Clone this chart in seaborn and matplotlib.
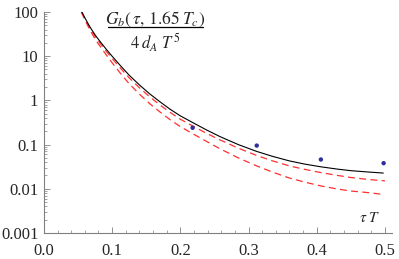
import numpy as np
import pandas as pd
import matplotlib
matplotlib.use("Agg")
import matplotlib.pyplot as plt
import seaborn as sns
from matplotlib.ticker import FixedLocator, NullFormatter, LogLocator

# ---- data ----
tau_black = [0.0557, 0.06, 0.065, 0.07, 0.077, 0.085, 0.092, 0.10, 0.1125, 0.125, 0.14,
             0.155, 0.17, 0.185, 0.20, 0.218, 0.238, 0.258, 0.285, 0.312, 0.335, 0.36,
             0.382, 0.405, 0.43, 0.45, 0.475, 0.4975]
g_black = [100, 74.1, 53.7, 39.8, 27.5, 19.1, 14.0, 10.0, 6.03, 3.72, 2.24,
           1.41, 0.933, 0.631, 0.447, 0.316, 0.216, 0.152, 0.100, 0.070, 0.0543, 0.0427,
           0.0363, 0.0316, 0.0279, 0.0257, 0.0240, 0.0227]

tau_red1 = [0.0552, 0.06, 0.065, 0.07, 0.077, 0.085, 0.092, 0.10, 0.1125, 0.125, 0.14,
            0.155, 0.17, 0.185, 0.20, 0.218, 0.238, 0.258, 0.285, 0.312, 0.335, 0.36,
            0.382, 0.405, 0.43, 0.45, 0.475, 0.50]
g_red1 = [100, 70.4, 50.5, 37.0, 25.3, 17.4, 12.6, 8.9, 5.3, 3.24, 1.93,
          1.21, 0.79, 0.536, 0.375, 0.265, 0.181, 0.128, 0.083, 0.0567, 0.0429, 0.0329,
          0.0276, 0.0234, 0.0201, 0.0180, 0.0163, 0.0151]

tau_red2 = [0.0548, 0.06, 0.065, 0.07, 0.077, 0.085, 0.092, 0.10, 0.1125, 0.125, 0.14,
            0.155, 0.17, 0.185, 0.20, 0.218, 0.238, 0.258, 0.285, 0.312, 0.335, 0.36,
            0.382, 0.405, 0.43, 0.45, 0.475, 0.493]
g_red2 = [100, 66.7, 46.7, 33.4, 22.0, 14.7, 10.4, 7.1, 4.04, 2.38, 1.39,
          0.846, 0.550, 0.366, 0.255, 0.177, 0.119, 0.0806, 0.050, 0.0329, 0.0239, 0.0175,
          0.0142, 0.0117, 0.0099, 0.0089, 0.0082, 0.0076]

tau_pts = [0.218, 0.312, 0.406, 0.498]
g_pts = [0.24, 0.095, 0.046, 0.038]

x_ticks = [0.0, 0.1, 0.2, 0.3, 0.4, 0.5]
x_ticklabels = ["0.0", "0.1", "0.2", "0.3", "0.4", "0.5"]
y_ticks = [0.001, 0.01, 0.1, 1, 10, 100]
y_ticklabels = ["0.001", "0.01", "0.1", "1", "10", "100"]

sns.set_style("ticks")
plt.rcParams["font.family"] = ["Liberation Serif", "DejaVu Serif"]
plt.rcParams["mathtext.fontset"] = "stix"

fig = plt.figure(figsize=(3.99, 2.59), dpi=100)
ax = fig.add_axes([0.110, 0.1004, 0.872, 0.8533])

df_b = pd.DataFrame({"tau": tau_black, "g": g_black})
df_r1 = pd.DataFrame({"tau": tau_red1, "g": g_red1})
df_r2 = pd.DataFrame({"tau": tau_red2, "g": g_red2})
df_p = pd.DataFrame({"tau": tau_pts, "g": g_pts})

ax.set_yscale("log")
sns.lineplot(data=df_r1, x="tau", y="g", ax=ax, color="#ff3030", lw=0.9,
             sort=False, estimator=None)
sns.lineplot(data=df_r2, x="tau", y="g", ax=ax, color="#ff3030", lw=0.9,
             sort=False, estimator=None)
for l in ax.get_lines():
    l.set_dashes([5.5, 3.5])
sns.lineplot(data=df_b, x="tau", y="g", ax=ax, color="black", lw=0.8,
             sort=False, estimator=None)
sns.scatterplot(data=df_p, x="tau", y="g", ax=ax, color="#2f2f9a", s=10,
                edgecolor="none", zorder=5)

ax.set_xlim(0, 0.51)
ax.set_ylim(0.001, 100)
ax.set_xlabel("")
ax.set_ylabel("")

ax.xaxis.set_major_locator(FixedLocator(x_ticks))
ax.set_xticklabels(x_ticklabels)
ax.xaxis.set_minor_locator(FixedLocator([i * 0.02 for i in range(26)]))
ax.yaxis.set_major_locator(FixedLocator(y_ticks))
ax.set_yticklabels(y_ticklabels)
ax.yaxis.set_minor_locator(LogLocator(base=10, subs=np.arange(2, 10)))
ax.yaxis.set_minor_formatter(NullFormatter())

for s in ["top", "right"]:
    ax.spines[s].set_visible(False)
for s in ["left", "bottom"]:
    ax.spines[s].set_color("#808080")
    ax.spines[s].set_linewidth(0.8)

ax.tick_params(axis="both", which="major", direction="in", length=4, width=0.6,
               color="#808080", labelsize=12)
ax.tick_params(axis="x", which="major", pad=7)
ax.tick_params(axis="y", which="major", pad=4)
ax.tick_params(axis="both", which="minor", direction="in", length=2, width=0.5,
               color="#808080")

# label in the corner
ax.text(0.905, 0.068, r"$\tau\ T$", transform=ax.transAxes, fontsize=11,
        ha="left", va="center")

# fraction title
ax.text(0.32, 0.966, r"$G_b(\,\tau,\,1.65\;T_c)$", transform=ax.transAxes,
        fontsize=12.5, ha="center", va="center")
ax.plot([0.184, 0.457], [0.932, 0.932], transform=ax.transAxes, color="black",
        lw=0.9, clip_on=False)
ax.text(0.32, 0.862, r"$4\;d_A\;T^{\,5}$", transform=ax.transAxes,
        fontsize=12, ha="center", va="center")

fig.savefig("out.png", dpi=100)
